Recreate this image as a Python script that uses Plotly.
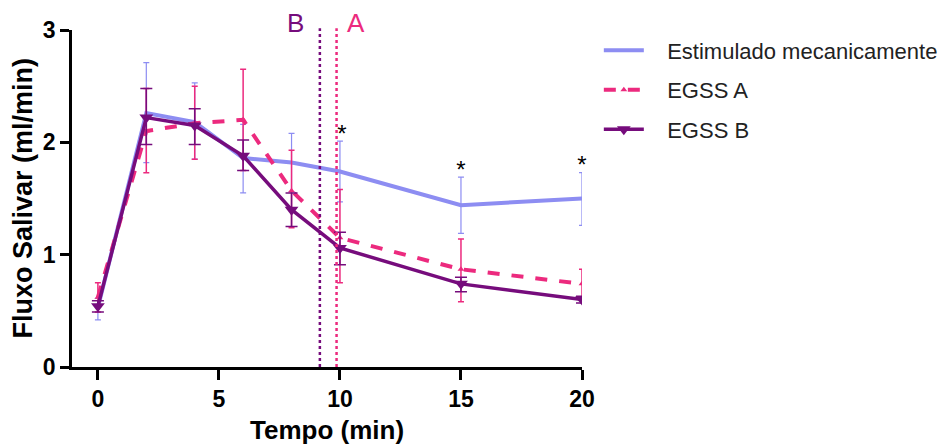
import plotly.graph_objects as go

# ---- data ----
tempo = [0, 2, 4, 6, 8, 10, 15, 20]

mec_y = [0.53, 2.26, 2.18, 1.86, 1.82, 1.74, 1.44, 1.50]
mec_up = [0.08, 0.45, 0.35, 0.30, 0.26, 0.27, 0.25, 0.23]
mec_dn = [0.11, 0.44, 0.33, 0.31, 0.26, 0.27, 0.25, 0.24]

a_y = [0.62, 2.10, 2.17, 2.20, 1.57, 1.15, 0.87, 0.74]
a_up = [0.13, 0.38, 0.33, 0.45, 0.36, 0.43, 0.27, 0.13]
a_dn = [0.13, 0.37, 0.32, 0.45, 0.33, 0.40, 0.29, 0.13]

b_y = [0.54, 2.22, 2.15, 1.88, 1.40, 1.06, 0.74, 0.60]
b_up = [0.05, 0.26, 0.15, 0.14, 0.15, 0.14, 0.06, 0.03]
b_dn = [0.05, 0.24, 0.17, 0.13, 0.15, 0.15, 0.07, 0.03]

star_x = [10.08, 15, 20]
star_y = [2.06, 1.74, 1.78]

x_ticks = [0, 5, 10, 15, 20]
y_ticks = [0, 1, 2, 3]

line_b_x = 9.17
line_a_x = 9.86

BLUE = "#8D8DF2"
PINK = "#EC2A7E"
PURPLE = "#760C7C"
FONT = "Arial, Liberation Sans, sans-serif"
NB = "\u00a0\u00a0\u00a0"

fig = go.Figure()

fig.add_trace(go.Scatter(
    x=tempo, y=mec_y, mode="lines", name=NB + "Estimulado mecanicamente",
    line=dict(color=BLUE, width=4), legendgroup="g1",
    error_y=dict(type="data", array=mec_up, arrayminus=mec_dn, color=BLUE,
                 thickness=1.2, width=3),
))
fig.add_trace(go.Scatter(
    x=tempo, y=a_y, mode="lines+markers", name=NB + "EGSS A",
    line=dict(color=PINK, width=4, dash="dash"), legendgroup="g2",
    marker=dict(symbol="triangle-up", size=6, color=PINK),
    error_y=dict(type="data", array=a_up, arrayminus=a_dn, color=PINK,
                 thickness=1.5, width=3),
))
fig.add_trace(go.Scatter(
    x=tempo, y=b_y, mode="lines+markers", name=NB + "EGSS B",
    line=dict(color=PURPLE, width=3.5), legendgroup="g3",
    marker=dict(symbol="triangle-down", size=12, color=PURPLE),
    error_y=dict(type="data", array=b_up, arrayminus=b_dn, color=PURPLE,
                 thickness=1.5, width=6),
))

# asterisks
fig.add_trace(go.Scatter(
    x=star_x, y=star_y, mode="text", text=["*"] * len(star_x),
    textfont=dict(family=FONT, size=24, color="black"),
    showlegend=False, hoverinfo="skip", cliponaxis=False,
))

# vertical dotted lines
fig.add_shape(type="line", x0=line_b_x, x1=line_b_x, y0=0, y1=1.005, yref="paper",
              line=dict(color=PURPLE, width=2.5, dash="dot"))
fig.add_shape(type="line", x0=line_a_x, x1=line_a_x, y0=0, y1=1.005, yref="paper",
              line=dict(color=PINK, width=2.5, dash="dot"))

fig.add_annotation(x=line_b_x, y=1.0, yref="paper", text="B", showarrow=False,
                   xanchor="right", yanchor="bottom", xshift=-14, yshift=-10,
                   font=dict(family=FONT, size=26, color=PURPLE))
fig.add_annotation(x=line_a_x, y=1.0, yref="paper", text="A", showarrow=False,
                   xanchor="left", yanchor="bottom", xshift=8, yshift=-10,
                   font=dict(family=FONT, size=26, color=PINK))

# axis titles
fig.add_annotation(x=0.5, xref="paper", y=0, yref="paper", text="<b>Tempo (min)</b>",
                   showarrow=False, xanchor="center", yanchor="top", yshift=-46,
                   font=dict(family=FONT, size=26, color="black"))
fig.add_annotation(x=0, xref="paper", y=0.5, yref="paper", text="<b>Fluxo Salivar (ml/min)</b>",
                   showarrow=False, xanchor="center", yanchor="middle", xshift=-50,
                   textangle=-90, font=dict(family=FONT, size=27, color="black"))

fig.update_layout(
    width=938, height=437,
    margin=dict(l=64, r=364, t=22, b=78, autoexpand=False),
    paper_bgcolor="white", plot_bgcolor="white",
    font=dict(family=FONT, color="black"),
    showlegend=True,
    legend=dict(x=1.033, y=1.002, xanchor="left", yanchor="top",
                font=dict(family=FONT, size=22, color="#222"),
                tracegroupgap=8, traceorder="grouped",
                bgcolor="rgba(0,0,0,0)", itemwidth=40),
    xaxis=dict(
        range=[-1.07, 20], showgrid=False, zeroline=False, automargin=False,
        showline=True, linecolor="black", linewidth=2.5,
        ticks="outside", ticklen=10, tickwidth=2.5, tickcolor="black",
        tickvals=x_ticks, ticktext=[f"<b>{v}</b>" for v in x_ticks],
        tickfont=dict(family=FONT, size=23, color="black"),
    ),
    yaxis=dict(
        range=[0, 3], showgrid=False, zeroline=False, automargin=False,
        showline=True, linecolor="black", linewidth=2.5,
        ticks="outside", ticklen=9, tickwidth=2.5, tickcolor="black",
        tickvals=y_ticks, ticktext=[f"<b>{v}</b>" for v in y_ticks],
        tickfont=dict(family=FONT, size=23, color="black"),
    ),
)

fig.write_html("out.html")
